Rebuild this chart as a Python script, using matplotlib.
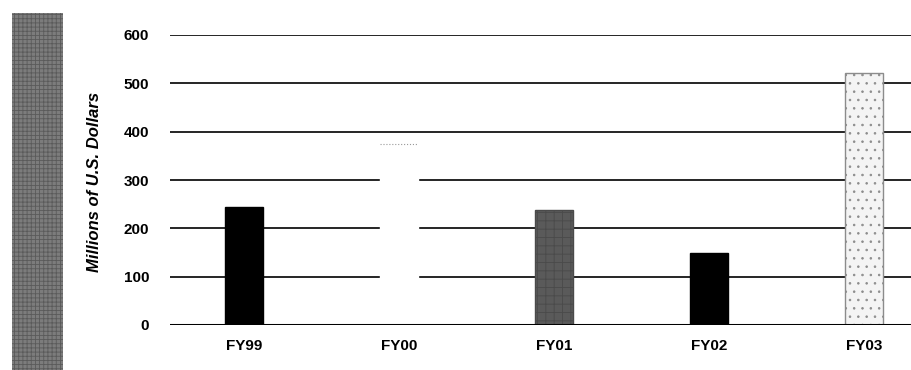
import matplotlib
matplotlib.use("Agg")
import matplotlib.pyplot as plt
import matplotlib.patches as mpatches

# ---- data ----
years = ["FY99", "FY00", "FY01", "FY02", "FY03"]
spending = [244, 374, 237, 150, 521]   # millions of U.S. dollars
bar_faces = ["#000000", "#ffffff", "#5a5a5a", "#000000", "#f4f4f4"]
bar_edges = ["#000000", "#ffffff", "#4a4a4a", "#000000", "#8c8c8c"]
bar_hatches = [None, None, "++", None, ".."]
y_ticks = [0, 100, 200, 300, 400, 500, 600]

plt.rcParams["font.family"] = ["Liberation Sans", "DejaVu Sans"]
plt.rcParams["hatch.linewidth"] = 0.6

fig = plt.figure(figsize=(9.12, 3.70), dpi=100, facecolor="white")

# textured grey strip on the far left
strip = mpatches.Rectangle((12 / 912, 0), 51 / 912, 357 / 370,
                           transform=fig.transFigure, facecolor="#7c7c7c",
                           edgecolor="#5a5a5a", hatch="++++", linewidth=0)
fig.patches.append(strip)

ax = fig.add_axes([170 / 912, 45 / 370, 742 / 912, 290 / 370])

x = range(len(years))
ax.set_ylim(0, 600)
ax.set_xlim(-0.477, 4.31)
for y in y_ticks[1:]:
    ax.axhline(y, color="black", linewidth=1.2, zorder=1)
ax.axhline(0, color="black", linewidth=2.2, zorder=3)

bars = ax.bar(x, spending, width=0.245, color=bar_faces, zorder=2)
for bar, ec, h in zip(bars, bar_edges, bar_hatches):
    bar.set_edgecolor(ec)
    bar.set_linewidth(1.0)
    if h:
        bar.set_hatch(h)
# faint dotted top edge on the white FY00 bar
b = bars[1]
ax.plot([b.get_x(), b.get_x() + b.get_width()], [b.get_height()] * 2,
        color="#999999", linewidth=0.8, linestyle=":", zorder=3)

ax.set_yticks(y_ticks)
ax.set_yticklabels([str(v) for v in y_ticks], fontsize=11, fontweight="bold")
ax.set_xticks(list(x))
ax.set_xticklabels(years, fontsize=11, fontweight="bold")
ax.tick_params(axis="y", length=0, pad=15)
ax.tick_params(axis="x", length=0, pad=10)
for side in ["top", "right", "left", "bottom"]:
    ax.spines[side].set_visible(False)

fig.text(95 / 912, 1 - 182 / 370, "Millions of U.S. Dollars", rotation=90,
         ha="center", va="center", fontsize=12, fontweight="bold",
         fontstyle="italic")

fig.savefig("out.png", dpi=100, facecolor="white")
